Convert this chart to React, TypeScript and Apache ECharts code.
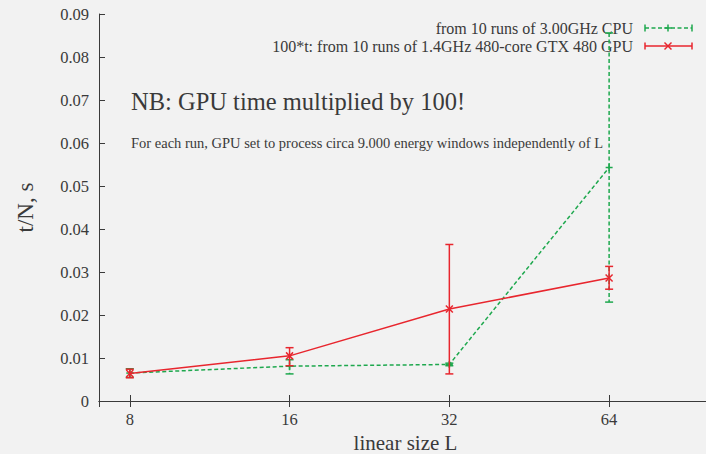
import React, { useEffect, useRef } from 'react';
import * as echarts from 'echarts';

const sizes = [8, 16, 32, 64];
const cpuMean = [0.0065, 0.0081, 0.0085, 0.0543];
const cpuLow = [0.0055, 0.0063, 0.0082, 0.023];
const cpuHigh = [0.0075, 0.0096, 0.0088, 0.0856];
const gpuMean = [0.0064, 0.0105, 0.0214, 0.0286];
const gpuLow = [0.0054, 0.0082, 0.0063, 0.026];
const gpuHigh = [0.0074, 0.0124, 0.0364, 0.0313];

const cpuName = 'from 10 runs of 3.00GHz CPU';
const gpuName = '100*t: from 10 runs of 1.4GHz 480-core GTX 480 GPU';
const noteBig = 'NB: GPU time multiplied by 100!';
const noteSmall = 'For each run, GPU set to process circa 9.000 energy windows independently of L';

const GREEN = '#1ea84e';
const RED = '#e8262e';
const TEXT = '#3a3a3a';
const AXIS = '#3a3a3a';
const FONT = "'Liberation Serif', serif";
const DASH = [4, 2.5];

function errRender(color: string, dashed: boolean, marker: 'plus' | 'cross') {
  return (params: any, api: any) => {
    const x = api.value(0);
    const m = api.coord([x, api.value(1)]);
    const lo = api.coord([x, api.value(2)]);
    const hi = api.coord([x, api.value(3)]);
    const cw = 4;
    const ms = 3.5;
    const barStyle: any = { stroke: color, lineWidth: 1.5, fill: null };
    if (dashed) barStyle.lineDash = DASH;
    const solid = { stroke: color, lineWidth: 1.5, fill: null };
    const children: any[] = [
      { type: 'line', shape: { x1: hi[0], y1: hi[1], x2: lo[0], y2: lo[1] }, style: barStyle },
      { type: 'line', shape: { x1: hi[0] - cw, y1: hi[1], x2: hi[0] + cw, y2: hi[1] }, style: solid },
      { type: 'line', shape: { x1: lo[0] - cw, y1: lo[1], x2: lo[0] + cw, y2: lo[1] }, style: solid },
    ];
    if (marker === 'plus') {
      children.push(
        { type: 'line', shape: { x1: m[0] - ms, y1: m[1], x2: m[0] + ms, y2: m[1] }, style: solid },
        { type: 'line', shape: { x1: m[0], y1: m[1] - ms, x2: m[0], y2: m[1] + ms }, style: solid }
      );
    } else {
      children.push(
        { type: 'line', shape: { x1: m[0] - ms, y1: m[1] - ms, x2: m[0] + ms, y2: m[1] + ms }, style: solid },
        { type: 'line', shape: { x1: m[0] - ms, y1: m[1] + ms, x2: m[0] + ms, y2: m[1] - ms }, style: solid }
      );
    }
    return { type: 'group', children };
  };
}

function legendRow(y: number, text: string, color: string, dashed: boolean, marker: 'plus' | 'cross') {
  const x0 = 645;
  const x1 = 692;
  const xm = 668;
  const ms = 3.5;
  const lineStyle: any = { stroke: color, lineWidth: 1.5, fill: null };
  if (dashed) lineStyle.lineDash = DASH;
  const solid = { stroke: color, lineWidth: 1.5, fill: null };
  const els: any[] = [
    {
      type: 'text',
      x: 633,
      y,
      style: {
        text,
        fill: TEXT,
        fontSize: 16,
        fontFamily: FONT,
        align: 'right',
        verticalAlign: 'middle',
      },
    },
    { type: 'line', shape: { x1: x0, y1: y, x2: x1, y2: y }, style: lineStyle },
    { type: 'line', shape: { x1: x0, y1: y - 3.5, x2: x0, y2: y + 3.5 }, style: solid },
    { type: 'line', shape: { x1: x1, y1: y - 3.5, x2: x1, y2: y + 3.5 }, style: solid },
  ];
  if (marker === 'plus') {
    els.push(
      { type: 'line', shape: { x1: xm - ms, y1: y, x2: xm + ms, y2: y }, style: solid },
      { type: 'line', shape: { x1: xm, y1: y - ms, x2: xm, y2: y + ms }, style: solid }
    );
  } else {
    els.push(
      { type: 'line', shape: { x1: xm - ms, y1: y - ms, x2: xm + ms, y2: y + ms }, style: solid },
      { type: 'line', shape: { x1: xm - ms, y1: y + ms, x2: xm + ms, y2: y - ms }, style: solid }
    );
  }
  return els;
}

export default function App() {
  const ref = useRef<HTMLDivElement>(null);
  useEffect(() => {
    const chart = echarts.init(ref.current!, null, { renderer: 'svg' });
    const cpuLine = sizes.map((s, i) => [s, cpuMean[i]]);
    const gpuLine = sizes.map((s, i) => [s, gpuMean[i]]);
    const cpuErr = sizes.map((s, i) => [s, cpuMean[i], cpuLow[i], cpuHigh[i]]);
    const gpuErr = sizes.map((s, i) => [s, gpuMean[i], gpuLow[i], gpuHigh[i]]);

    const xCommon: any = {
      type: 'log',
      logBase: 2,
      min: 7,
      max: 100,
      axisLine: { show: true, lineStyle: { color: AXIS, width: 1 } },
      axisTick: { show: true, inside: true, length: 6, lineStyle: { color: AXIS } },
      splitLine: { show: false },
      minorTick: { show: false },
    };
    const yCommon: any = {
      type: 'value',
      min: 0,
      max: 0.09,
      interval: 0.01,
      axisLine: { show: true, lineStyle: { color: AXIS, width: 1 } },
      axisTick: { show: true, inside: true, length: 6, lineStyle: { color: AXIS } },
      splitLine: { show: false },
    };

    chart.setOption({
      animation: false,
      backgroundColor: '#f2f2f2',
      textStyle: { fontFamily: FONT },
      grid: { left: 99, right: -6, top: 14, bottom: 53, outerBoundsMode: 'none', containLabel: false },
      xAxis: [
        {
          ...xCommon,
          position: 'bottom',
          name: 'linear size L',
          nameLocation: 'middle',
          nameGap: 30,
          nameTextStyle: { color: TEXT, fontSize: 21, lineHeight: 21, fontFamily: FONT },
          axisLabel: {
            show: true,
            color: TEXT,
            fontSize: 16.5,
            fontFamily: FONT,
            margin: 10,
            showMinLabel: false,
            showMaxLabel: false,
          },
        },
        {
          ...xCommon,
          position: 'top',
          axisLabel: { show: false },
        },
      ],
      yAxis: [
        {
          ...yCommon,
          position: 'left',
          name: 't/N, s',
          nameLocation: 'middle',
          nameGap: 62,
          nameTextStyle: { color: TEXT, fontSize: 23, fontFamily: FONT },
          axisLabel: { show: true, color: TEXT, fontSize: 16.5, fontFamily: FONT, margin: 10 },
        },
        {
          ...yCommon,
          position: 'right',
          axisLabel: { show: false },
        },
      ],
      series: [
        {
          type: 'line',
          name: cpuName,
          data: cpuLine,
          symbol: 'none',
          lineStyle: { color: GREEN, width: 1.5, type: DASH },
          z: 2,
        },
        {
          type: 'custom',
          name: cpuName + ' err',
          data: cpuErr,
          renderItem: errRender(GREEN, true, 'plus'),
          encode: { x: 0, y: [1, 2, 3] },
          clip: false,
          z: 2,
        },
        {
          type: 'line',
          name: gpuName,
          data: gpuLine,
          symbol: 'none',
          lineStyle: { color: RED, width: 1.5 },
          z: 3,
        },
        {
          type: 'custom',
          name: gpuName + ' err',
          data: gpuErr,
          renderItem: errRender(RED, false, 'cross'),
          encode: { x: 0, y: [1, 2, 3] },
          clip: false,
          z: 3,
        },
      ],
      graphic: [
        {
          type: 'text',
          x: 131,
          y: 101,
          style: { text: noteBig, fill: TEXT, fontSize: 24.5, fontFamily: FONT, verticalAlign: 'middle' },
        },
        {
          type: 'text',
          x: 131,
          y: 143,
          style: { text: noteSmall, fill: TEXT, fontSize: 14.5, fontFamily: FONT, verticalAlign: 'middle' },
        },
        ...legendRow(28, cpuName, GREEN, true, 'plus'),
        ...legendRow(46, gpuName, RED, false, 'cross'),
      ],
    });
    return () => chart.dispose();
  }, []);
  return (
    <div
      ref={ref}
      style={{ position: 'fixed', left: 0, top: 0, width: 706, height: 454, background: '#f2f2f2' }}
    />
  );
}
